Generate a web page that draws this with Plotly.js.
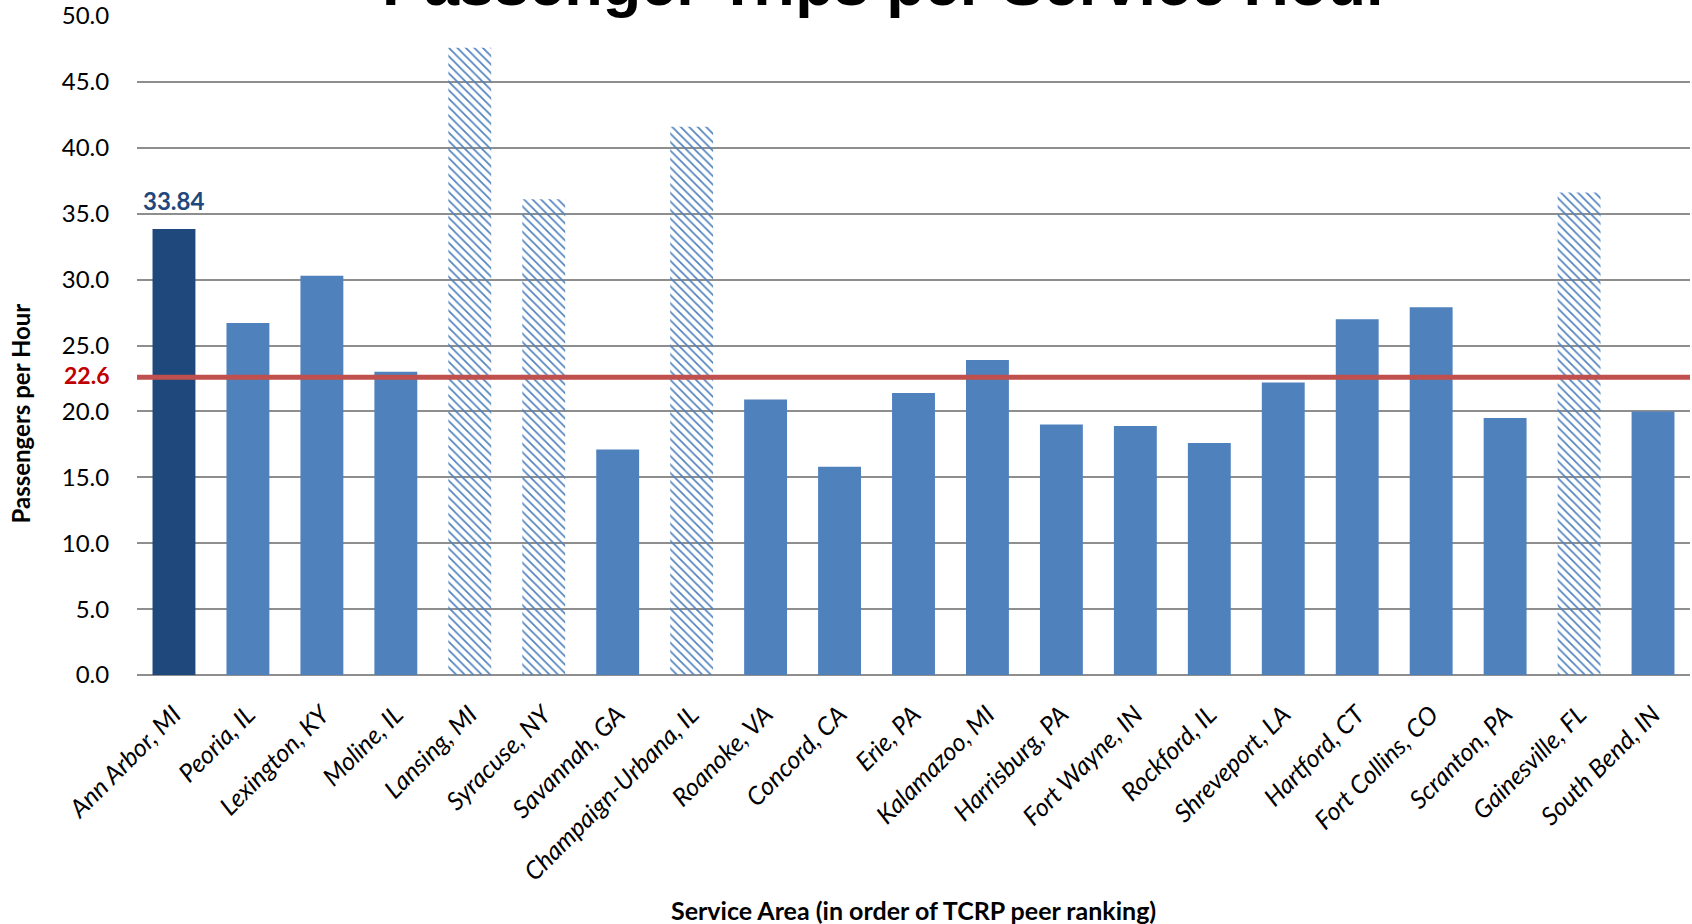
<!DOCTYPE html>
<html>
<head>
<meta charset="utf-8">
<script src="https://cdn.plot.ly/plotly-3.0.1.min.js"></script>
<style>html,body{margin:0;padding:0;background:#fff;}#chart{width:1692px;height:924px;}</style>
</head>
<body>
<div id="chart"></div>
<script>
const categories = ["Ann Arbor, MI","Peoria, IL","Lexington, KY","Moline, IL","Lansing, MI","Syracuse, NY","Savannah, GA","Champaign-Urbana, IL","Roanoke, VA","Concord, CA","Erie, PA","Kalamazoo, MI","Harrisburg, PA","Fort Wayne, IN","Rockford, IL","Shreveport, LA","Hartford, CT","Fort Collins, CO","Scranton, PA","Gainesville, FL","South Bend, IN"];
const values = [33.84,26.7,30.3,23.0,47.6,36.1,17.1,41.6,20.9,15.8,21.4,23.9,19.0,18.9,17.6,22.2,27.0,27.9,19.5,36.6,20.0];
const hatched = [false,false,false,false,true,true,false,true,false,false,false,false,false,false,false,false,false,false,false,true,false];
const peerAverage = 22.6;
const highlightLabel = "33.84";
const tickVals = [0,5,10,15,20,25,30,35,40,45,50];

const colors = categories.map((c,i)=> i===0 ? "#1F497D" : "#4F81BD");
const shapes = hatched.map(h => h ? "\\" : "");

const trace = {
  type: "bar",
  x: categories,
  y: values,
  marker: {
    color: colors,
    line: {width: 0},
    pattern: {shape: shapes, fillmode: "replace", bgcolor: "#ffffff", size: 6, solidity: 0.28}
  },
  hoverinfo: "x+y"
};

const layout = {
  width: 1692, height: 924,
  margin: {l: 137, r: 2, t: 16, b: 249},
  paper_bgcolor: "#ffffff", plot_bgcolor: "#ffffff",
  bargap: 0.42,
  showlegend: false,
  font: {family: "Lato, 'Noto Sans', sans-serif", color: "#000"},
  xaxis: {
    type: "category",
    tickangle: -45,
    tickfont: {family: "Lato", size: 25, style: "italic", color: "#000"},
    ticks: "outside", ticklen: 14, tickcolor: "rgba(0,0,0,0)",
    showgrid: false, zeroline: false, showline: false
  },
  yaxis: {
    range: [0, 50],
    tickvals: tickVals,
    tickformat: ".1f",
    tickfont: {family: "Lato", size: 24, color: "#000"},
    ticks: "outside", ticklen: 22, tickcolor: "rgba(0,0,0,0)",
    showgrid: true, gridcolor: "#8E8E8E", gridwidth: 2,
    zeroline: true, zerolinecolor: "#8E8E8E", zerolinewidth: 2,
    showline: false
  },
  shapes: [{
    type: "line", xref: "paper", x0: 0, x1: 1, yref: "y", y0: peerAverage, y1: peerAverage,
    line: {color: "#C0504D", width: 5}, layer: "above"
  }],
  annotations: [
    {text: "Passenger Trips per Service Hour", xref: "paper", yref: "paper", x: 0.482, y: 1.0, yanchor: "middle", xanchor: "center",
     yshift: 33, showarrow: false, font: {family: "Liberation Sans, Arial, sans-serif", size: 63, weight: "bold", color: "#000"}},
    {text: "Passengers per Hour", xref: "paper", yref: "paper", x: 0, y: 0.5, xanchor: "center", yanchor: "middle",
     xshift: -117, yshift: -68, textangle: -90, showarrow: false, font: {family: "Lato", size: 24, weight: "bold", color: "#000"}},
    {text: "Service Area (in order of TCRP peer ranking)", xref: "paper", yref: "paper", x: 0.5, y: 0, xanchor: "center", yanchor: "middle",
     yshift: -235, showarrow: false, font: {family: "Lato", size: 25, weight: "bold", color: "#000"}},
    {text: String(peerAverage), xref: "paper", yref: "y", x: 0, y: peerAverage, xanchor: "right", yanchor: "middle",
     xshift: -26, yshift: 2, showarrow: false, font: {family: "Lato", size: 23, weight: "bold", color: "#C00000"}},
    {text: highlightLabel, xref: "x", yref: "y", x: categories[0], y: values[0], xanchor: "center", yanchor: "bottom",
     yshift: 12, showarrow: false, font: {family: "Lato", size: 24, weight: "bold", color: "#1F497D"}}
  ]
};

Plotly.newPlot("chart", [trace], layout, {displayModeBar: false, staticPlot: true});
</script>
</body>
</html>
